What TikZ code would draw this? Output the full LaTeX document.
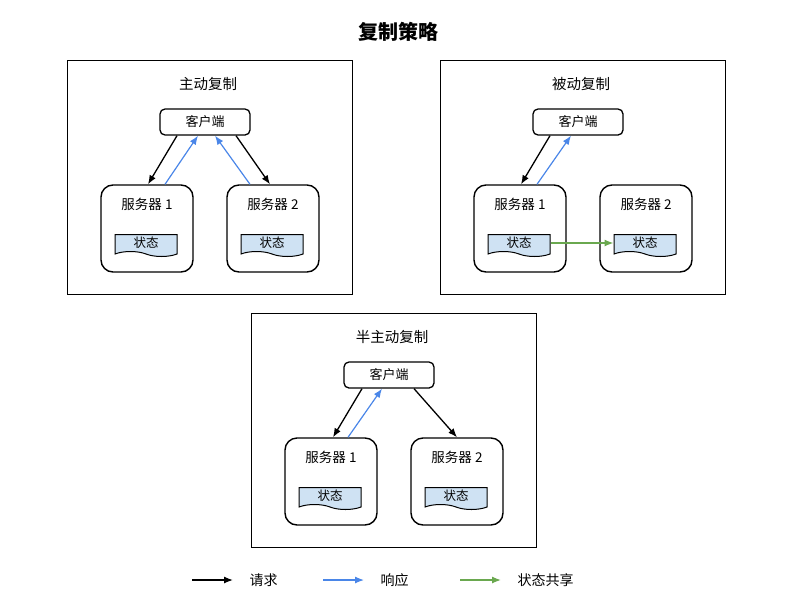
\documentclass[tikz,border=0pt]{standalone}
\usepackage{fontspec}
\setmainfont{Noto Sans CJK SC}
\usetikzlibrary{calc,positioning,shapes.symbols,arrows.meta}

\definecolor{stateblue}{HTML}{CFE2F3}
\definecolor{respblue}{HTML}{4A86E8}
\definecolor{sharegreen}{HTML}{6AA84F}

\tikzset{
  panel/.style={draw,line width=1.3pt,minimum width=285,minimum height=234,anchor=north west,inner sep=0pt},
  ptitle/.style={font=\fontsize{14.5}{16}\selectfont},
  client/.style={draw,line width=1.3pt,rounded corners=5pt,minimum width=90,minimum height=26,inner sep=0pt,font=\fontsize{13}{14}\selectfont},
  server/.style={draw,line width=1.4pt,rounded corners=12pt,minimum width=92,minimum height=87,inner sep=0pt},
  stext/.style={font=\fontsize{13.5}{14}\selectfont},
  statedoc/.style={shape=tape,tape bend top=none,tape bend bottom=out and in,tape bend height=5pt,
    draw,line width=1pt,fill=stateblue,minimum width=62,minimum height=22,inner sep=0pt,font=\fontsize{12.5}{14}\selectfont},
  req/.style={-{Latex[length=9pt,width=7pt]},line width=1.3pt,black},
  resp/.style={-{Latex[length=9pt,width=7pt]},line width=1.2pt,respblue},
  share/.style={-{Latex[length=9pt,width=7pt]},line width=1.3pt,sharegreen},
  legend/.style={font=\fontsize{14}{16}\selectfont}
}

\begin{document}
\begin{tikzpicture}[x=1pt,y=-1pt]
\useasboundingbox (0,0) rectangle (800,600);

\node[font=\bfseries\fontsize{20}{24}\selectfont] (title) at (398,32) {复制策略};

%% the three panels: corner x / corner y / name
\def\panels{67/60/主动复制, 440/60/被动复制, 251/313/半主动复制}
\foreach \px/\py/\name [count=\ni] in \panels
{
  \node[panel] (p\ni) at (\px,\py) {};
  \node[ptitle] (t\ni) at (\px+141,\py+24) {\name};
  \node[client] (c\ni) at (\px+138,\py+62) {客户端};
  \foreach \k/\sx in {1/80,2/206}
  {
    \node[server] (s\ni\k) at (\px+\sx,\py+168.5) {};
    \node[stext] (l\ni\k) at ($(s\ni\k.north)+(0,20)$) {服务器 \k};
    \node[statedoc] (st\ni\k) at (\px+\sx-1,\py+183) {状态};
  }
}

%% active replication
\draw[req]  ($(c1.south)+(-28,0)$) -- ($(s11.north)+(1,0)$);
\draw[resp] ($(s11.north)+(18,0)$) -- ($(c1.south)+(-7,0)$);
\draw[resp] ($(s12.north)+(-23,0)$) -- ($(c1.south)+(10,0)$);
\draw[req]  ($(c1.south)+(31,0)$) -- ($(s12.north)+(-3,0)$);

%% passive replication
\draw[req]  ($(c2.south)+(-28,0)$) -- ($(s21.north)+(1,0)$);
\draw[resp] ($(s21.north)+(17,0)$) -- ($(c2.south)+(-7,0)$);
\draw[share] (st21.east) -- (st22.west);

%% semi-active replication
\draw[req]  ($(c3.south)+(-27,0)$) -- ($(s31.north)+(2,0)$);
\draw[resp] ($(s31.north)+(17,0)$) -- ($(c3.south)+(-7,0)$);
\draw[req]  ($(c3.south)+(25,0)$) -- ($(s32.north)+(0,0)$);

%% legend
\foreach \x/\st/\txt [count=\ni] in {192/req/请求, 323/resp/响应, 460/share/状态共享}
{
  \coordinate (a\ni) at (\x,580);
  \coordinate (b\ni) at (\x+41,580);
  \draw[\st] (a\ni) -- (b\ni);
  \node[legend,anchor=west,right=13pt of b\ni] (g\ni) {\txt};
}
\end{tikzpicture}
\end{document}
